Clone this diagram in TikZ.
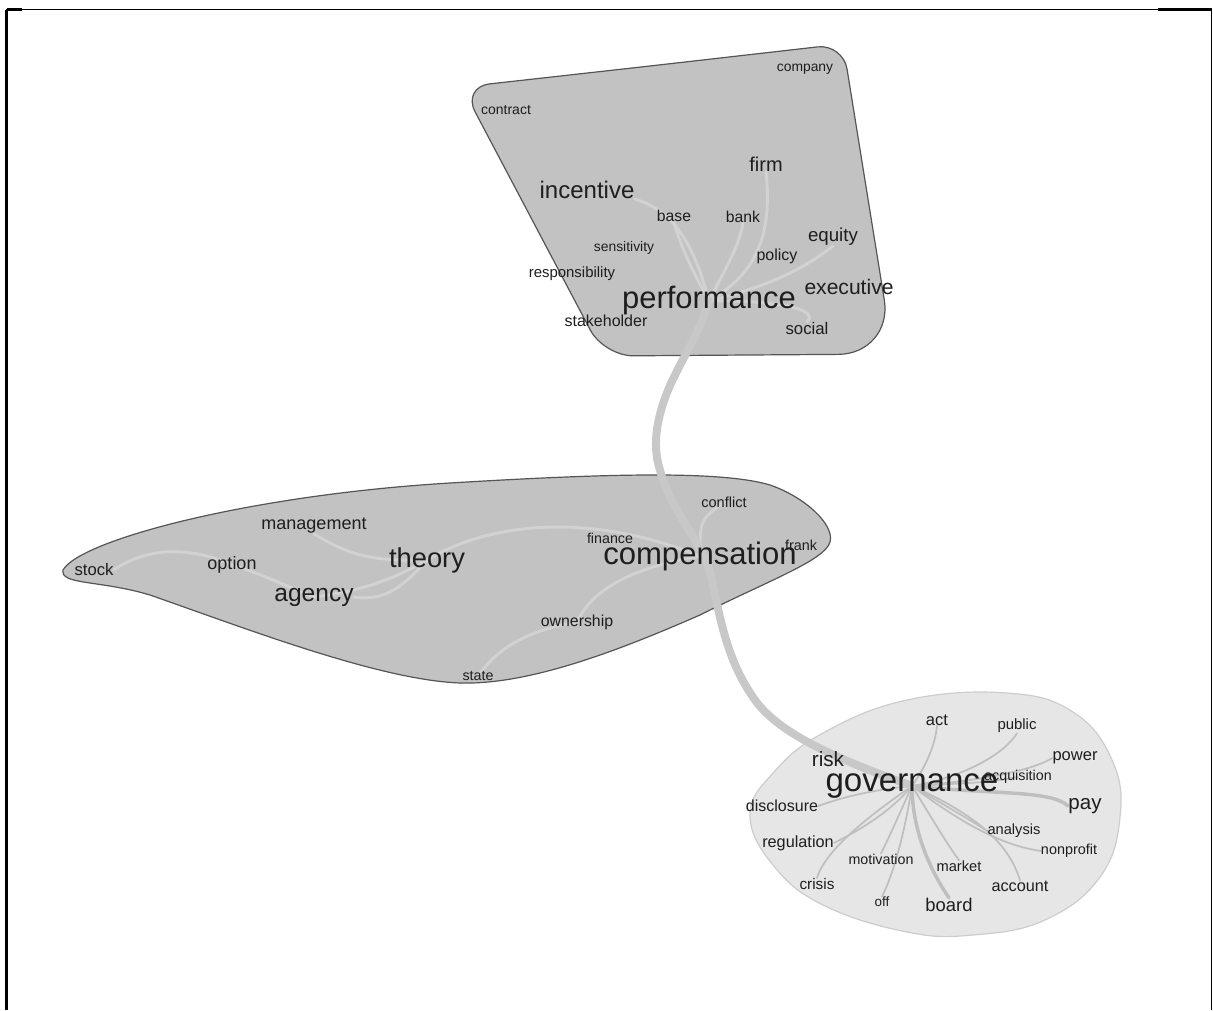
\documentclass[tikz,border=0pt]{standalone}
\usepackage{fontspec}
\setmainfont{Liberation Sans}
\pgfdeclarelayer{bg}
\pgfdeclarelayer{edgelayer}
\pgfsetlayers{bg,edgelayer,main}
\definecolor{blobdark}{HTML}{C2C2C2}
\definecolor{bloblight}{HTML}{E6E6E6}
\definecolor{blobline}{HTML}{555555}
\definecolor{blobline2}{HTML}{CDCDCD}
\definecolor{mainline}{HTML}{C8C8C8}
\definecolor{innerline}{HTML}{D2D2D2}
\definecolor{govline}{HTML}{BFBFBF}
\definecolor{wordcol}{HTML}{1E1E1E}
\begin{document}
\begin{tikzpicture}[x=0.75pt,y=-0.75pt,
  word/.style={inner sep=0pt, text=wordcol, font=\fontsize{#1}{#1}\selectfont},
  darkblob/.style={draw=blobline, line width=0.9pt, fill=blobdark},
  lightblob/.style={draw=blobline2, line width=0.9pt, fill=bloblight},
  bigline/.style={draw=mainline, line width=6pt, line cap=round},
  inner/.style={draw=innerline, line width=2.2pt, line cap=round},
  spoke/.style={draw=govline, line width=1.3pt, line cap=round},
  thickspoke/.style={draw=govline, line width=2.6pt, line cap=round},
  frame/.style={draw=black, line width=0.8pt},
  framethick/.style={draw=black, line width=2pt}
]
\useasboundingbox (0,0) rectangle (1213,1010);

% frame
\draw[frame] (6,9.5) -- (1211.5,9.5) -- (1211.5,1010);
\draw[framethick] (6.5,9.5) -- (6.5,1010);
\draw[framethick] (6.5,9.5) -- (22,9.5);
\draw[framethick] (1158,9.5) -- (1211.5,9.5);

% ---------- top cluster words ----------
\node[word=10.4] (company) at (805,69) {company};
\node[word=10.5] (contract) at (506,110) {contract};
\node[word=15]   (firm) at (766,164) {firm};
\node[word=18]   (incentive) at (587,190) {incentive};
\node[word=11.8] (base) at (674,216) {base};
\node[word=11.8] (bank) at (743,217) {bank};
\node[word=14]   (equity) at (833,237) {equity};
\node[word=10.4] (sensitivity) at (624,248) {sensitivity};
\node[word=12]   (policy) at (777,256) {policy};
\node[word=11.2] (responsibility) at (572,274) {responsibility};
\node[word=23.2] (performance) at (709,301) {performance};
\node[word=15.8] (executive) at (849,287) {executive};
\node[word=12]   (stakeholder) at (606,321) {stakeholder};
\node[word=12.6] (social) at (807,328) {social};

% ---------- middle cluster words ----------
\node[word=10.9] (conflict) at (724,502) {conflict};
\node[word=13.5] (management) at (314,526) {management};
\node[word=10.7] (finance) at (610,538) {finance};
\node[word=10.8] (frank) at (801,545) {frank};
\node[word=20.5] (theory) at (427,560) {theory};
\node[word=23.3] (compensation) at (700,556) {compensation};
\node[word=12.5] (stock) at (94,570) {stock};
\node[word=13.5] (option) at (232,565) {option};
\node[word=18.4] (agency) at (314,597) {agency};
\node[word=11.9] (ownership) at (577,622) {ownership};
\node[word=10.7] (state) at (478,676) {state};

% ---------- bottom cluster words ----------
\node[word=12.4] (act) at (937,720) {act};
\node[word=11.2] (public) at (1017,726) {public};
\node[word=12.4] (power) at (1075,758) {power};
\node[word=15.5] (risk) at (828,759) {risk};
\node[word=10.7] (acquisition) at (1018,777) {acquisition};
\node[word=24.8] (governance) at (912,786) {governance};
\node[word=15.4] (pay) at (1085,806) {pay};
\node[word=12]   (disclosure) at (782,806) {disclosure};
\node[word=11]   (analysis) at (1014,831) {analysis};
\node[word=12.2] (regulation) at (798,843) {regulation};
\node[word=10.8] (nonprofit) at (1069,851) {nonprofit};
\node[word=10.7] (motivation) at (881,859) {motivation};
\node[word=11]   (market) at (959,866) {market};
\node[word=12.2] (account) at (1020,886) {account};
\node[word=11.5] (crisis) at (817,884) {crisis};
\node[word=10.1] (off) at (882,902) {off};
\node[word=13.8] (board) at (949,905) {board};

% ---------- blobs ----------
\begin{pgfonlayer}{bg}
\path[darkblob] (650,66) [rounded corners=19pt] -- (843,44)
   [rounded corners=41pt] -- (893,354) [rounded corners=22pt] -- (604,356)
   [rounded corners=21pt] -- (462,87) -- cycle;
\path[darkblob] (63,570) .. controls (80,540) and (250,495) .. (450,483)
   .. controls (600,474) and (720,470) .. (770,485)
   .. controls (805,497) and (835,525) .. (830,542)
   .. controls (825,560) and (770,580) .. (700,615)
   .. controls (620,650) and (530,685) .. (460,683)
   .. controls (380,680) and (250,630) .. (150,595)
   .. controls (100,580) and (60,585) .. (63,570) -- cycle;
\path[lightblob] plot[smooth cycle, tension=0.7] coordinates {
   (750,815) (773,773) (823,733) (907,700) (1007,693) (1073,712)
   (1112,760) (1120,817) (1100,877) (1045,920) (973,935) (907,932)
   (823,905) (773,865)};
\end{pgfonlayer}

% ---------- connectors ----------
\begin{pgfonlayer}{edgelayer}
% top cluster
\draw[inner] (incentive.south east) .. controls (680,212) and (697,257) .. (performance.center);
\draw[inner] (base.south) .. controls (680,245) and (692,270) .. (performance.center);
\draw[inner] (bank.south) .. controls (740,245) and (722,275) .. (performance.center);
\draw[inner] (firm.south) .. controls (772,230) and (760,272) .. (performance.center);
\draw[inner] (equity.south) .. controls (805,268) and (770,286) .. (performance.center);
\draw[inner] (social.north) .. controls (820,310) and (780,300) .. (performance.center);
% middle cluster
\draw[inner] (stock.east) .. controls (150,545) and (195,548) .. (option.center)
   .. controls (265,575) and (290,588) .. (agency.center);
\draw[inner] (agency.center) .. controls (370,590) and (400,575) .. (theory.center);
\draw[inner] (agency.east) .. controls (385,602) and (405,585) .. (theory.center);
\draw[inner] (management.south) .. controls (345,552) and (365,562) .. (theory.center);
\draw[inner] (theory.center) .. controls (490,522) and (590,512) .. (compensation.center);
\draw[inner] (compensation.center) .. controls (620,570) and (590,595) .. (ownership.center);
\draw[inner] (ownership.center) .. controls (520,632) and (495,652) .. (state.center);
\draw[inner] (conflict.center) .. controls (700,520) .. (compensation.center);
% governance cluster
\draw[spoke] (act.south) .. controls (935,750) and (920,775) .. (governance.center);
\draw[spoke] (public.south) .. controls (1000,760) and (950,780) .. (governance.center);
\draw[spoke] (power.west) .. controls (1030,772) and (970,782) .. (governance.center);
\draw[spoke] (acquisition.center) .. controls (990,782) .. (governance.center);
\draw[thickspoke] (pay.west) .. controls (1050,790) and (1000,795) .. (governance.center);
\draw[spoke] (disclosure.east) .. controls (840,798) and (870,790) .. (governance.center);
\draw[spoke] (regulation.east) .. controls (860,830) and (890,812) .. (governance.center);
\draw[spoke] (crisis.north) .. controls (825,850) and (870,815) .. (governance.center);
\draw[spoke] (motivation.north) .. controls (890,835) .. (governance.center);
\draw[spoke] (off.north) .. controls (895,870) and (905,830) .. (governance.center);
\draw[thickspoke] (board.north) .. controls (930,870) and (912,830) .. (governance.center);
\draw[spoke] (market.north) .. controls (945,840) .. (governance.center);
\draw[spoke] (account.north) .. controls (1008,840) and (970,812) .. (governance.center);
\draw[spoke] (analysis.west) .. controls (970,820) .. (governance.center);
\draw[spoke] (nonprofit.west) .. controls (1000,845) and (960,822) .. (governance.center);
\draw[spoke] (risk.east) .. controls (870,770) .. (governance.center);
% main link
\draw[bigline] (performance.center) .. controls (700,330) and (690,345) .. (675,375)
   .. controls (660,405) and (650,440) .. (660,470)
   .. controls (670,510) and (705,545) .. (712,580)
   .. controls (722,630) and (730,665) .. (755,700)
   .. controls (780,735) and (840,760) .. (governance.center);
\end{pgfonlayer}
\end{tikzpicture}
\end{document}
